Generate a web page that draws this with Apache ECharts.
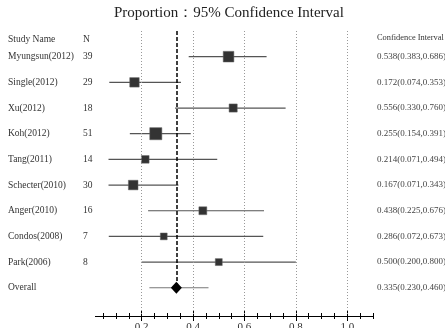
<!DOCTYPE html>
<html>
<head>
<meta charset="utf-8">
<script src="https://cdn.jsdelivr.net/npm/echarts@6/dist/echarts.min.js"></script>
<style>
  html, body { margin: 0; padding: 0; background: #fff; }
  #chart { width: 445px; height: 328px; }
</style>
</head>
<body>
<div id="chart"></div>
<script>
const studies = ['Myungsun(2012)', 'Single(2012)', 'Xu(2012)', 'Koh(2012)', 'Tang(2011)',
  'Schecter(2010)', 'Anger(2010)', 'Condos(2008)', 'Park(2006)'];
const sampleN = [39, 29, 18, 51, 14, 30, 16, 7, 8];
const estimate = [0.538, 0.172, 0.556, 0.255, 0.214, 0.167, 0.438, 0.286, 0.500];
const lower = [0.383, 0.074, 0.330, 0.154, 0.071, 0.071, 0.225, 0.072, 0.200];
const upper = [0.686, 0.353, 0.760, 0.391, 0.494, 0.343, 0.676, 0.673, 0.800];
const overallEst = 0.335;
const overallLower = 0.230;
const overallUpper = 0.460;

const majorTicks = [0.2, 0.4, 0.6, 0.8, 1.0];
const minorTicks = [0.05, 0.1, 0.15, 0.25, 0.3, 0.35, 0.45, 0.5, 0.55, 0.65, 0.7, 0.75,
  0.85, 0.9, 0.95, 1.05, 1.1];

const rowNames = studies.concat(['Overall']);
const rowN = sampleN.map(String).concat(['']);
const ciText = estimate.map((e, i) => e.toFixed(3) + '(' + lower[i].toFixed(3) + ',' + upper[i].toFixed(3) + ')')
  .concat([overallEst.toFixed(3) + '(' + overallLower.toFixed(3) + ',' + overallUpper.toFixed(3) + ')']);
const rowIdx = rowNames.map((_, i) => i);

const serif = 'Liberation Serif';
const chart = echarts.init(document.getElementById('chart'));

const studyData = studies.map((s, i) => [i, estimate[i], lower[i], upper[i], sampleN[i]]);

// four identical grids: main one + three only used to draw crossing ticks
const gridBox = { left: 95.4, right: 72, top: 31, bottom: 12, outerBoundsMode: 'none' };

function tickAxis(grid, values, len, inside) {
  return {
    gridIndex: grid, type: 'value', min: 0.02, max: 1.1, position: 'bottom',
    axisLine: { show: false, onZero: false },
    axisTick: { show: true, customValues: values, length: len, inside: inside,
      lineStyle: { color: '#000', width: 1 } },
    axisLabel: { show: false },
    splitLine: { show: false }
  };
}
function blankY(grid) {
  return { gridIndex: grid, type: 'value', min: -1, max: 10.1, inverse: true, show: false,
    axisLine: { onZero: false } };
}

const option = {
  animation: false,
  title: [
    { text: 'Proportion：95% Confidence Interval', left: 114, top: 6, padding: 0,
      textStyle: { fontFamily: serif, fontSize: 15, fontWeight: 'normal', color: '#222' } },
    { text: 'Study Name', left: 8, top: 34, padding: 0,
      textStyle: { fontFamily: serif, fontSize: 9.5, fontWeight: 'normal', color: '#333' } },
    { text: 'N', left: 83, top: 34, padding: 0,
      textStyle: { fontFamily: serif, fontSize: 9.5, fontWeight: 'normal', color: '#333' } },
    { text: 'Confidence Interval', left: 377, top: 34, padding: 0,
      textStyle: { fontFamily: serif, fontSize: 8.4, fontWeight: 'normal', color: '#333' } }
  ],
  grid: [gridBox, gridBox, gridBox, gridBox],
  xAxis: [
    Object.assign(tickAxis(0, minorTicks, 3, false), {
      axisLine: { show: true, onZero: false, lineStyle: { color: '#000', width: 1 } },
      axisLabel: { show: true, customValues: majorTicks, margin: 6,
        formatter: v => v.toFixed(1),
        fontFamily: serif, fontSize: 11, color: '#333' }
    }),
    tickAxis(1, minorTicks, 3, true),
    tickAxis(2, majorTicks, 5, false),
    tickAxis(3, majorTicks, 5, true)
  ],
  yAxis: [
    {
      gridIndex: 0, type: 'value', min: -1, max: 10.1, inverse: true, position: 'left',
      axisLine: { show: false, onZero: false }, axisTick: { show: false }, splitLine: { show: false },
      axisLabel: {
        customValues: rowIdx, align: 'left', margin: 87.4,
        formatter: v => '{a|' + rowNames[v] + '}{b|' + rowN[v] + '}',
        rich: {
          a: { width: 75, fontFamily: serif, fontSize: 9.5, color: '#333' },
          b: { fontFamily: serif, fontSize: 9.5, color: '#333' }
        }
      }
    },
    {
      gridIndex: 0, type: 'value', min: -1, max: 10.1, inverse: true, position: 'right',
      axisLine: { show: false, onZero: false }, axisTick: { show: false }, splitLine: { show: false },
      axisLabel: {
        customValues: rowIdx, align: 'left', margin: 4,
        formatter: v => ciText[v],
        fontFamily: serif, fontSize: 9, color: '#444'
      }
    },
    blankY(1), blankY(2), blankY(3)
  ],
  series: [
    {
      type: 'custom',
      xAxisIndex: 0, yAxisIndex: 0,
      data: studyData,
      renderItem: function (params, api) {
        const row = api.value(0);
        const pE = api.coord([api.value(1), row]);
        const pL = api.coord([api.value(2), row]);
        const pU = api.coord([api.value(3), row]);
        const s = 6 + 0.12 * api.value(4);
        return {
          type: 'group',
          children: [
            { type: 'line', shape: { x1: pL[0], y1: pE[1], x2: pU[0], y2: pE[1] },
              style: { stroke: '#555', lineWidth: 1.2 } },
            { type: 'rect', shape: { x: pE[0] - s / 2, y: pE[1] - s / 2, width: s, height: s },
              style: { fill: '#333', stroke: '#666', lineWidth: 0.5 } }
          ]
        };
      },
      markLine: {
        silent: true, symbol: 'none', label: { show: false },
        data: majorTicks.map(v => ({ xAxis: v, lineStyle: { color: '#999', type: [1, 2], width: 1 } }))
          .concat([[
            { coord: [overallEst, -1], lineStyle: { color: '#000', type: [4, 2], width: 1.5 } },
            { coord: [overallEst, 9] }
          ]])
      }
    },
    {
      type: 'custom',
      xAxisIndex: 0, yAxisIndex: 0,
      data: [[9, overallEst, overallLower, overallUpper]],
      renderItem: function (params, api) {
        const row = api.value(0);
        const pE = api.coord([api.value(1), row]);
        const pL = api.coord([api.value(2), row]);
        const pU = api.coord([api.value(3), row]);
        const w = 5.5, h = 6;
        return {
          type: 'group',
          children: [
            { type: 'line', shape: { x1: pL[0], y1: pE[1], x2: pU[0], y2: pE[1] },
              style: { stroke: '#777', lineWidth: 1.2 } },
            { type: 'polygon', shape: { points: [[pE[0] - w, pE[1]], [pE[0], pE[1] - h], [pE[0] + w, pE[1]], [pE[0], pE[1] + h]] },
              style: { fill: '#000' } }
          ]
        };
      }
    }
  ]
};

chart.setOption(option);
</script>
</body>
</html>
